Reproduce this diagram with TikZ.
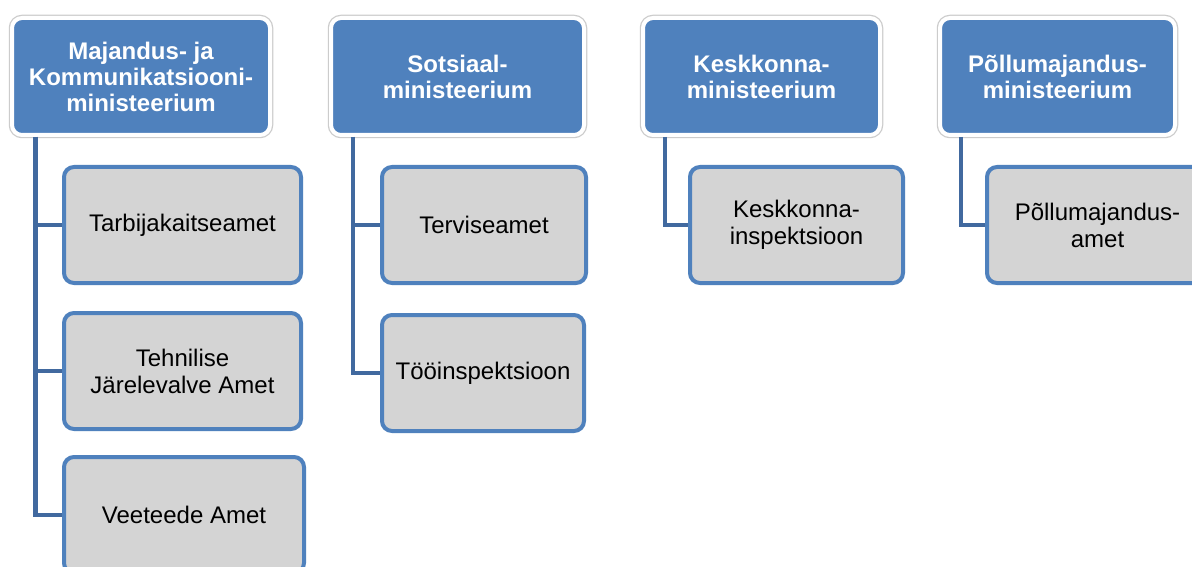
\documentclass[tikz,border=0pt]{standalone}
\usepackage{fontspec}
\setmainfont{Liberation Sans}
\definecolor{hblue}{HTML}{4F81BD}
\definecolor{cgray}{HTML}{D4D4D4}
\definecolor{cborder}{HTML}{4F81BD}
\definecolor{lineblue}{HTML}{41699F}
\begin{document}
\begin{tikzpicture}[x=1pt,y=-1pt,
  head/.style={rectangle, rounded corners=10pt, fill=hblue, draw=white, line width=4pt,
    preaction={draw=gray!40, line width=6.5pt}, text=white,
    font=\bfseries\fontsize{24}{26}\selectfont, align=center, inner sep=0pt, minimum height=117pt},
  child/.style={rectangle, rounded corners=10pt, fill=cgray, draw=cborder, line width=4pt,
    text=black, font=\fontsize{24}{27}\selectfont, align=center, inner sep=0pt, minimum height=116pt},
  conn/.style={draw=lineblue, line width=4.5pt}]
\clip (0,0) rectangle (1192,567);
\fill[white] (0,0) rectangle (1192,567);

% headers
\node[head, minimum width=258pt] (h1) at (141,76.5) {Majandus- ja\\Kommunikatsiooni-\\ministeerium};
\node[head, minimum width=253pt] (h2) at (457.5,76.5) {Sotsiaal-\\ministeerium};
\node[head, minimum width=237pt] (h3) at (761.5,76.5) {Keskkonna-\\ministeerium};
\node[head, minimum width=235pt] (h4) at (1057.5,76.5) {Põllumajandus-\\ministeerium};

% children
\node[child, minimum width=237pt] (c11) at (182.5,225) {Tarbijakaitseamet};
\node[child, minimum width=237pt] (c12) at (182.5,371) {Tehnilise\\Järelevalve Amet};
\node[child, minimum width=240pt] (c13) at (184,515) {Veeteede Amet};
\node[child, minimum width=204pt] (c21) at (484,225) {Terviseamet};
\node[child, minimum width=202pt] (c22) at (483,373) {Tööinspektsioon};
\node[child, minimum width=213pt] (c31) at (796.5,225) {Keskkonna-\\inspektsioon};
\node[child, minimum width=221pt] (c41) at (1097.5,225) {Põllumajandus-\\amet};

% connector origins
\coordinate (v1) at ([xshift=25.5pt]h1.south west);
\coordinate (v2) at ([xshift=24pt]h2.south west);
\coordinate (v3) at ([xshift=24pt]h3.south west);
\coordinate (v4) at ([xshift=23pt]h4.south west);

\draw[conn] (v1) |- (c11.west);
\draw[conn] (v1) |- (c12.west);
\draw[conn] (v1) |- (c13.west);
\draw[conn] (v2) |- (c21.west);
\draw[conn] (v2) |- (c22.west);
\draw[conn] (v3) |- (c31.west);
\draw[conn] (v4) |- (c41.west);
\end{tikzpicture}
\end{document}
